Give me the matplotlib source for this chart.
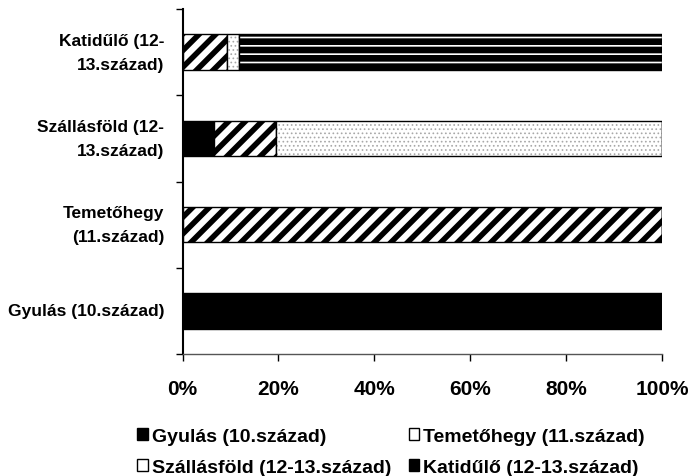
import matplotlib
matplotlib.use("Agg")
import matplotlib.pyplot as plt
import numpy as np
from matplotlib.patches import Patch

plt.rcParams['font.family'] = ['Liberation Sans', 'DejaVu Sans']
plt.rcParams['font.weight'] = 'bold'

categories = ["Gyulás (10.század)", "Temetőhegy\n(11.század)",
              "Szállásföld (12-\n13.század)", "Katidűlő (12-\n13.század)"]
series_names = ["Gyulás (10.század)", "Temetőhegy (11.század)",
                "Szállásföld (12-13.század)", "Katidűlő (12-13.század)"]
gyulas = [100, 0, 6.5, 0]
temetohegy = [0, 100, 13.0, 9.2]
szallasfold = [0, 0, 80.5, 2.5]
katidulo = [0, 0, 0, 88.3]
xticks = [0, 20, 40, 60, 80, 100]
xticklabels = ["0%", "20%", "40%", "60%", "80%", "100%"]

fig = plt.figure(figsize=(6.91, 4.77), dpi=100)
ax = fig.add_axes([182.5/691, 1-355/477, 479.5/691, 345/477])

y = np.arange(len(categories))
h = 0.414
left = np.zeros(len(categories))

plt.rcParams['hatch.linewidth'] = 4.0
ax.barh(y, gyulas, left=left, height=h, color='black', edgecolor='black', linewidth=1)
left += np.array(gyulas)
ax.barh(y, temetohegy, left=left, height=h, color='white', edgecolor='black',
        hatch='//', linewidth=1)
left += np.array(temetohegy)
plt.rcParams['hatch.linewidth'] = 0.7
ax.barh(y, szallasfold, left=left, height=h, color='white', edgecolor='#a8a8a8',
        hatch='....', linewidth=0)
ax.barh(y, szallasfold, left=left, height=h, fill=False, edgecolor='black', linewidth=1)
left += np.array(szallasfold)
plt.rcParams['hatch.linewidth'] = 1.2
ax.barh(y, katidulo, left=left, height=h, color='black', edgecolor='white',
        hatch='--', linewidth=0)
ax.barh(y, katidulo, left=left, height=h, fill=False, edgecolor='black', linewidth=1)

ax.set_xlim(0, 100)
ax.set_ylim(-0.5, len(categories) - 0.5)
ax.set_xticks(xticks)
ax.set_xticklabels(xticklabels, fontsize=15, fontweight='bold')
ax.tick_params(axis='x', direction='out', length=5, width=1, pad=13, colors='black')

ax.set_yticks(np.arange(-0.5, len(categories)), labels=[])
ax.set_yticks(y, minor=True)
ax.set_yticklabels(categories, minor=True, fontsize=12.5, fontweight='bold',
                   multialignment='right', linespacing=1.75, va='center')
ax.tick_params(axis='y', which='major', direction='out', length=5, width=1)
ax.tick_params(axis='y', which='minor', length=0, pad=13)

for s in ['top', 'right']:
    ax.spines[s].set_visible(False)
ax.spines['left'].set_linewidth(1.5)
ax.spines['bottom'].set_color('#555555')
ax.spines['bottom'].set_linewidth(1)

plt.rcParams['hatch.linewidth'] = 1.5
handles = [
    Patch(facecolor='black', edgecolor='black', label=series_names[0]),
    Patch(facecolor='white', edgecolor='black', hatch='/', label=series_names[1]),
    Patch(facecolor='white', edgecolor='black', label=series_names[2]),
    Patch(facecolor='black', edgecolor='black', label=series_names[3]),
]
order = [0, 2, 1, 3]
leg = fig.legend([handles[i] for i in order], [series_names[i] for i in order],
                 ncol=2, loc='center', bbox_to_anchor=(391/691, 1-453/477),
                 frameon=False, prop={'size': 14, 'weight': 'bold'},
                 handlelength=0.55, handleheight=0.55, handletextpad=0.2,
                 columnspacing=0.9, labelspacing=0.72, borderpad=0)

fig.savefig("out.png", dpi=100)
